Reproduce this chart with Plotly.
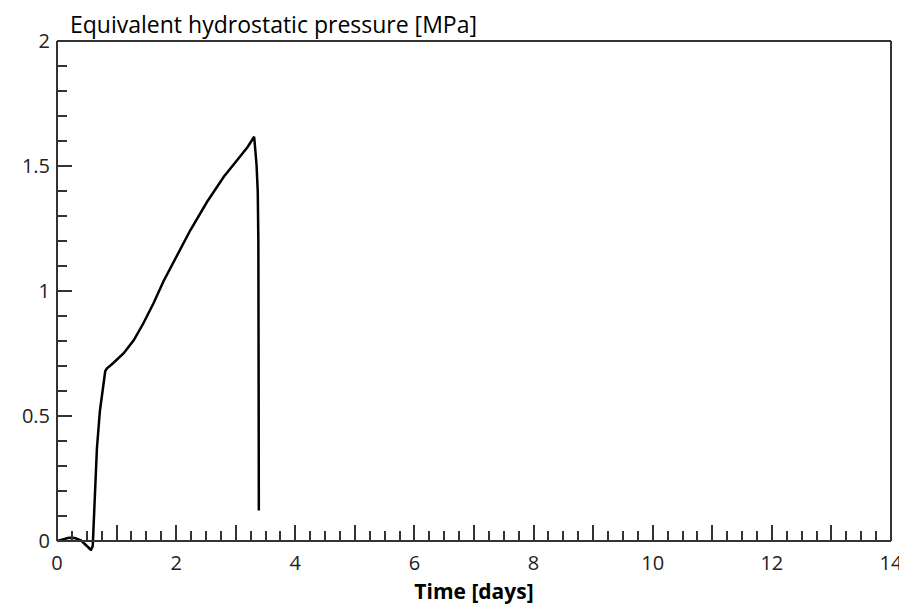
import plotly.graph_objects as go

# Data
time_days = [0.0, 0.1, 0.2, 0.3, 0.4, 0.48, 0.54, 0.57, 0.6, 0.63, 0.67, 0.72, 0.77, 0.81, 0.84,
             0.95, 1.12, 1.29, 1.45, 1.62, 1.79, 1.96, 2.24, 2.52, 2.80, 3.08, 3.20, 3.31,
             3.35, 3.37, 3.38, 3.385, 3.388]
pressure_mpa = [0.0, 0.008, 0.013, 0.012, 0.003, -0.015, -0.032, -0.036, -0.02, 0.15, 0.37, 0.52, 0.62, 0.68, 0.691,
                0.713, 0.751, 0.804, 0.871, 0.951, 1.040, 1.118, 1.244, 1.357, 1.457, 1.540, 1.576, 1.617,
                1.504, 1.397, 1.2, 0.6, 0.122]

x_tickvals = list(range(0, 15))
x_ticktext = [str(v) if v % 2 == 0 else "" for v in x_tickvals]
y_tickvals = [0, 0.5, 1, 1.5, 2]
y_ticktext = ["0", "0.5", "1", "1.5", "2"]

title_text = "Equivalent hydrostatic pressure [MPa]"
x_title = "Time [days]"

AX = "#333333"
FONT = "Open Sans"
Y_MIN = -0.04  # a little room below 0 so the curve's dip is not clipped
Y_MAX = 2.0
x0_pos = (0 - Y_MIN) / (Y_MAX - Y_MIN)

fig = go.Figure()
fig.add_trace(go.Scatter(
    x=time_days, y=pressure_mpa, mode="lines",
    line=dict(color="black", width=2.5),
    cliponaxis=False, showlegend=False, hoverinfo="skip",
))

# frame: left, right and top lines (bottom line is the x axis itself)
frame = [(0, x0_pos, 0, 1), (1, x0_pos, 1, 1), (0, 1, 1, 1)]
for fx0, fy0, fx1, fy1 in frame:
    fig.add_shape(type="line", xref="paper", yref="paper", x0=fx0, y0=fy0, x1=fx1, y1=fy1,
                  line=dict(color=AX, width=2), layer="above")

fig.update_layout(
    width=899, height=599,
    margin=dict(l=49, r=16, t=33, b=56),
    paper_bgcolor="white", plot_bgcolor="white",
    font=dict(family=FONT, color="#222222", size=20),
    xaxis=dict(
        range=[0, 14], tickmode="array", tickvals=x_tickvals, ticktext=x_ticktext,
        anchor="free", position=x0_pos,
        ticks="inside", ticklen=15, tickwidth=1.5, tickcolor=AX,
        minor=dict(dtick=0.25, ticks="inside", ticklen=9, tickwidth=1.5, tickcolor=AX),
        showline=True, linecolor=AX, linewidth=2, mirror=False,
        showgrid=False, zeroline=False, automargin=False,
        ticklabelstandoff=4,
        tickfont=dict(size=20, family=FONT, color="#222222"),
        title=dict(text="<b>" + x_title + "</b>", font=dict(size=21, family=FONT, color="black"), standoff=8),
    ),
    yaxis=dict(
        range=[Y_MIN, Y_MAX], tickmode="array", tickvals=y_tickvals, ticktext=y_ticktext,
        ticks="inside", ticklen=15, tickwidth=1.5, tickcolor=AX,
        minor=dict(tickvals=[round(0.1 * i, 1) for i in range(0, 21)], ticks="inside",
                   ticklen=10, tickwidth=1.5, tickcolor=AX),
        showline=False,
        showgrid=False, zeroline=False, automargin=False,
        ticklabelstandoff=6,
        tickfont=dict(size=20, family=FONT, color="#222222"),
    ),
    annotations=[dict(
        text=title_text, xref="paper", yref="paper", x=0.014, y=1,
        xanchor="left", yanchor="bottom", yshift=0, borderpad=0, showarrow=False,
        font=dict(size=23, family=FONT, color="black"),
    )],
)

fig.write_html("out.html")
